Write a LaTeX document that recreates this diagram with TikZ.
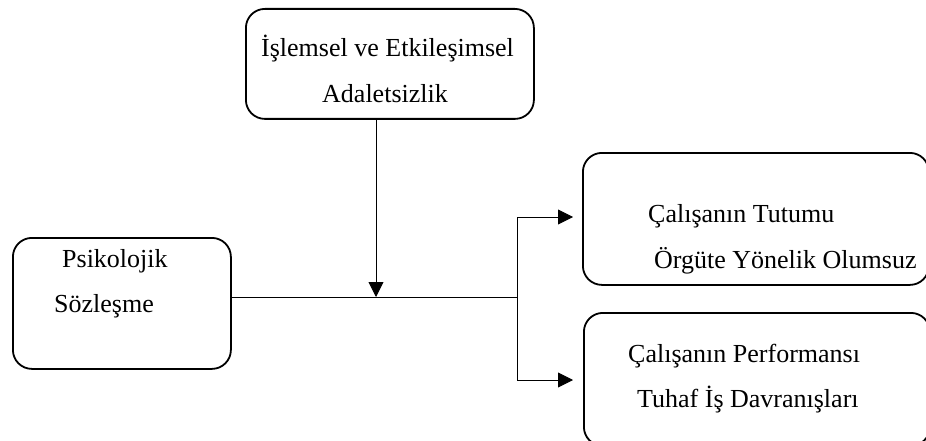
\documentclass[tikz,border=0pt]{standalone}
\usepackage{fontspec}
\setmainfont{Liberation Serif}
\usetikzlibrary{arrows.meta,calc}
\begin{document}
\begin{tikzpicture}[x=1pt,y=-1pt,
  box/.style={draw, line width=1.8pt, rounded corners=19pt, inner sep=0pt, anchor=north west},
  txt/.style={anchor=base west, inner sep=0pt, font=\fontsize{26}{30}\selectfont},
  conn/.style={line width=0.9pt},
  arr/.style={conn, -{Triangle[length=15pt,width=15pt]}}]
\useasboundingbox (0,0) rectangle (926,441);
\clip (0,0) rectangle (926,441);
% boxes
\node[box, minimum width=288pt, minimum height=110pt] (top) at (245,8) {};
\node[box, minimum width=218pt, minimum height=131pt] (left) at (12,237) {};
\node[box, minimum width=346pt, minimum height=132pt] (r1) at (582,152) {};
\node[box, minimum width=346pt, minimum height=133pt] (r2) at (583,312) {};
% texts
\node[txt] (t1) at (261,57) {İşlemsel ve Etkileşimsel};
\node[txt] (t2) at (322,103) {Adaletsizlik};
\node[txt] (l1) at (62,267) {Psikolojik};
\node[txt] (l2) at (54,312) {Sözleşme};
\node[txt] (a1) at (648,222) {Çalışanın Tutumu};
\node[txt] (a2) at (654,268) {Örgüte Yönelik Olumsuz};
\node[txt] (b1) at (628,362) {Çalışanın Performansı};
\node[txt] (b2) at (637,407) {Tuhaf İş Davranışları};
% connectors
\coordinate (j) at (376,297);
\coordinate (b) at (517,297);
\coordinate (u) at (517,217);
\coordinate (d) at (517,380);
\draw[arr] (top.south -| j) -- (j);
\draw[conn] (left.east |- j) -- (b);
\draw[conn] (u) -- (d);
\draw[arr, shorten >=9pt] (u) -- (r1.west |- u);
\draw[arr, shorten >=10pt] (d) -- (r2.west |- d);
\end{tikzpicture}
\end{document}
